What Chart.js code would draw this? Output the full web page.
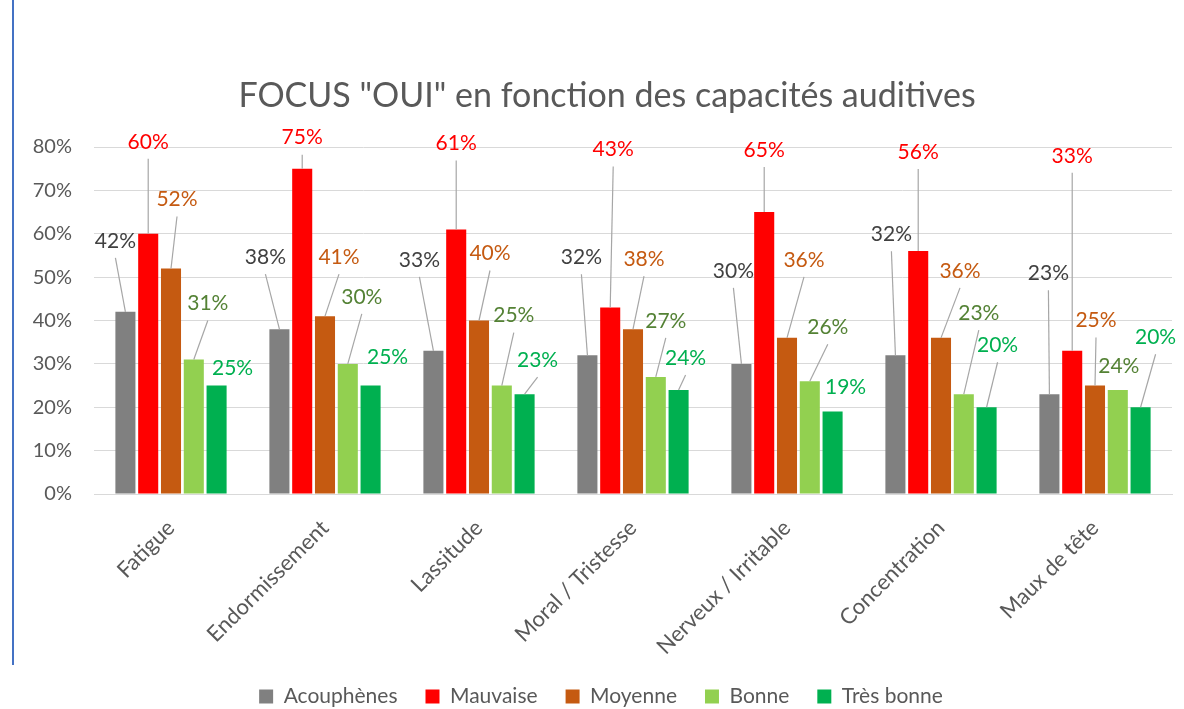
<!DOCTYPE html>
<html>
<head>
<meta charset="utf-8">
<script src="https://cdn.jsdelivr.net/npm/chart.js@4.4.1/dist/chart.umd.min.js"></script>
<style>
  html,body{margin:0;padding:0;background:#fff;}
  #wrap{position:relative;width:1184px;height:709px;}
  #bar{position:absolute;left:12px;top:0;width:2px;height:665px;background:#4472C4;}
  canvas{position:absolute;left:0;top:0;}
</style>
</head>
<body>
<div id="wrap">
  <canvas id="c" width="1184" height="709"></canvas>
  <div id="bar"></div>
</div>
<script>
const chartTitle = 'FOCUS "OUI" en fonction des capacités auditives';
const categories = ["Fatigue","Endormissement","Lassitude","Moral / Tristesse","Nerveux / Irritable","Concentration","Maux de tête"];
const seriesNames = ["Acouphènes","Mauvaise","Moyenne","Bonne","Très bonne"];
const acouphenes = [42,38,33,32,30,32,23];
const mauvaise   = [60,75,61,43,65,56,33];
const moyenne    = [52,41,40,38,36,36,25];
const bonne      = [31,30,25,27,26,23,24];
const tresBonne  = [25,25,23,24,19,20,20];
const yTicks = [0,10,20,30,40,50,60,70,80];

// styling: bar colours, label colours, label offsets (px, relative to bar top)
const barColors   = ["#808080","#FF0000","#C55A11","#92D050","#00B050"];
const labelColors = ["#404040","#FF0000","#C55A11","#548235","#00B050"];
const labelOffsets = [
  [[-10,-71],[-14,-72],[-14,-91],[-6,-98],[-8,-93],[-4,-121],[-1,-121]],
  [[0,-92],[0,-31],[0,-86],[3,-158],[0,-62],[0,-99],[0,-195]],
  [[6,-69],[14,-59],[11,-67],[11,-70],[17,-78],[19,-67],[1,-65]],
  [[14,-56],[14,-67],[12,-70],[10,-56],[18,-54],[15,-81],[1,-24]],
  [[16,-17],[17,-28],[13,-34],[7,-32],[13,-24],[11,-62],[15,-70]]
];

const FONT = "Lato, 'Open Sans', sans-serif";
const values = [acouphenes, mauvaise, moyenne, bonne, tresBonne];

const labelPlugin = {
  id: 'leaderLabels',
  afterDatasetsDraw(chart) {
    const ctx = chart.ctx;
    ctx.save();
    ctx.font = "21px " + FONT;
    ctx.textAlign = 'center';
    ctx.textBaseline = 'middle';
    chart.data.datasets.forEach((ds, i) => {
      const meta = chart.getDatasetMeta(i);
      meta.data.forEach((el, j) => {
        const [dx, dy] = labelOffsets[i][j];
        const lx = el.x + dx, ly = el.y + dy;
        if (Math.abs(dy) > 30) {
          ctx.strokeStyle = '#A6A6A6';
          ctx.lineWidth = 1.2;
          ctx.beginPath();
          ctx.moveTo(lx, ly + 17);
          ctx.lineTo(el.x, el.y);
          ctx.stroke();
        }
        ctx.fillStyle = labelColors[i];
        ctx.fillText(ds.data[j] + '%', lx, ly);
      });
    });
    ctx.restore();
  }
};

const titlePlugin = {
  id: 'customTitle',
  afterDraw(chart) {
    const ctx = chart.ctx;
    ctx.save();
    ctx.font = "34px " + FONT;
    ctx.fillStyle = '#595959';
    ctx.textAlign = 'center';
    ctx.textBaseline = 'middle';
    ctx.fillText(chartTitle, 607, 96);
    ctx.restore();
  }
};

new Chart(document.getElementById('c'), {
  type: 'bar',
  data: {
    labels: categories,
    datasets: seriesNames.map((n, i) => ({
      label: n,
      data: values[i],
      backgroundColor: barColors[i],
      borderWidth: 0,
      categoryPercentage: 0.74,
      barPercentage: 0.88
    }))
  },
  plugins: [labelPlugin, titlePlugin],
  options: {
    responsive: false,
    animation: false,
    layout: { padding: { left: 30, right: 12, top: 147, bottom: -8 } },
    plugins: {
      title: { display: false },
      legend: {
        position: 'bottom',
        labels: {
          color: '#595959',
          font: { family: FONT, size: 21 },
          boxWidth: 14, boxHeight: 14,
          padding: 28
        }
      },
      tooltip: { enabled: false }
    },
    scales: {
      x: {
        grid: { display: false, drawTicks: false },
        border: { color: '#D9D9D9', width: 1 },
        ticks: {
          color: '#595959',
          font: { family: FONT, size: 22 },
          maxRotation: 45, minRotation: 45,
          padding: 21
        },
        afterFit(s) { s.height = 164; }
      },
      y: {
        min: 0, max: 80,
        afterBuildTicks(s) { s.ticks = yTicks.map(v => ({ value: v })); },
        grid: { color: '#D9D9D9', lineWidth: 1, drawTicks: false },
        border: { display: false },
        ticks: {
          color: '#595959',
          font: { family: FONT, size: 20 },
          padding: 22,
          callback: v => v + '%'
        },
        afterFit(s) { s.width = 64; }
      }
    }
  }
});
</script>
</body>
</html>
